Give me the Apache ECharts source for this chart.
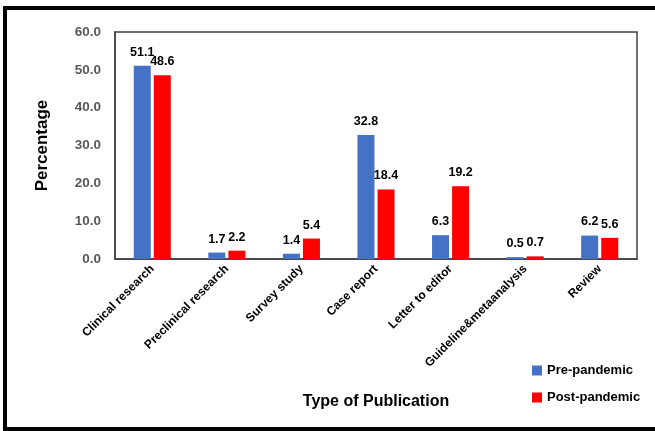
<!DOCTYPE html>
<html>
<head>
<meta charset="utf-8">
<script src="https://cdn.jsdelivr.net/npm/echarts@6/dist/echarts.min.js"></script>
<style>
  html, body { margin: 0; padding: 0; background: #fff; overflow: hidden; width: 655px; height: 431px; position: relative; }
  #frame { position: absolute; left: 3px; top: 6px; width: 660px; height: 417px; border: 4px solid #000; border-right: none; }
  #chart { position: absolute; left: 0; top: 0; width: 655px; height: 431px; }
</style>
</head>
<body>
<div id="frame"></div>
<div id="chart"></div>
<script>
// Share of publications by type, before and after the pandemic
const categories = ['Clinical research', 'Preclinical research', 'Survey study', 'Case report',
  'Letter to editor', 'Guideline&metaanalysis', 'Review'];
const prePandemic = [51.1, 1.7, 1.4, 32.8, 6.3, 0.5, 6.2];
const postPandemic = [48.6, 2.2, 5.4, 18.4, 19.2, 0.7, 5.6];
const yTicks = { min: 0, max: 60, interval: 10 };

const font = 'Liberation Sans, Arial, sans-serif';
const chart = echarts.init(document.getElementById('chart'), null, { renderer: 'canvas' });

const labelStyle = {
  show: true, position: 'top', distance: 7,
  formatter: p => p.value.toFixed(1),
  fontFamily: font, fontWeight: 'bold', fontSize: 12.5, color: '#000'
};

chart.setOption({
  animation: false,
  backgroundColor: 'transparent',
  grid: { left: 115, right: 18, top: 32, bottom: 172, show: true, borderColor: '#404040', borderWidth: 1.5 },
  legend: {
    orient: 'vertical', left: 527, top: 359, itemGap: 14,
    itemWidth: 10, itemHeight: 10, icon: 'rect',
    textStyle: { fontFamily: font, fontWeight: 'bold', fontSize: 13, color: '#000' },
    data: ['Pre-pandemic', 'Post-pandemic']
  },
  xAxis: {
    type: 'category', data: categories,
    name: 'Type of Publication', nameLocation: 'middle', nameGap: 135,
    nameTextStyle: { fontFamily: font, fontWeight: 'bold', fontSize: 16, color: '#000' },
    axisLine: { lineStyle: { color: '#404040', width: 1.5 } },
    axisTick: { show: false },
    axisLabel: { rotate: 45, interval: 0, margin: 8, fontFamily: font, fontWeight: 'bold', fontSize: 12, color: '#000' }
  },
  yAxis: {
    type: 'value', min: yTicks.min, max: yTicks.max, interval: yTicks.interval,
    name: 'Percentage', nameLocation: 'middle', nameGap: 64,
    nameTextStyle: { fontFamily: font, fontWeight: 'bold', fontSize: 17, color: '#000' },
    axisLine: { show: true, lineStyle: { color: '#404040', width: 1.5 } },
    axisTick: { show: false },
    splitLine: { show: false },
    axisLabel: { margin: 14, formatter: v => v.toFixed(1), fontFamily: font, fontWeight: 'bold', fontSize: 13.5, color: '#595959' }
  },
  series: [
    { name: 'Pre-pandemic', type: 'bar', data: prePandemic, barWidth: 17, barGap: '18%',
      itemStyle: { color: '#4472C4' }, label: labelStyle },
    { name: 'Post-pandemic', type: 'bar', data: postPandemic, barWidth: 17,
      itemStyle: { color: '#FF0000' }, label: labelStyle }
  ]
});
</script>
</body>
</html>
